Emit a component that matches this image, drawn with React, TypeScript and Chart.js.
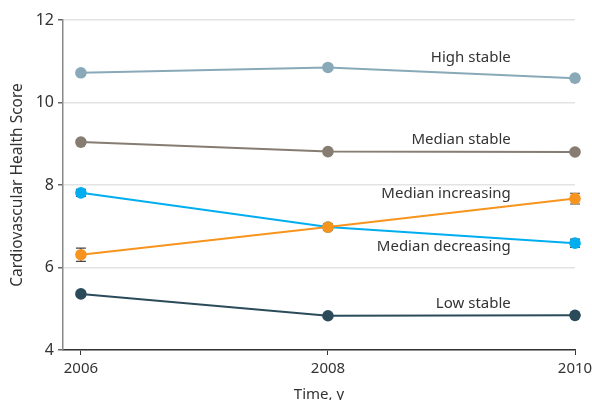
import React, { useEffect, useRef } from "react";
import { Chart, registerables } from "chart.js";

Chart.register(...registerables);

const years = [2006, 2008, 2010];
const seriesNames = ["High stable", "Median stable", "Median increasing", "Median decreasing", "Low stable"];
const highStable = [10.72, 10.85, 10.59];
const medianStable = [9.04, 8.81, 8.80];
const medianIncreasing = [6.31, 6.98, 7.67];
const medianDecreasing = [7.81, 6.98, 6.59];
const lowStable = [5.36, 4.83, 4.84];
const highStableErr = [0.05, 0.05, 0.05];
const medianStableErr = [0.05, 0.05, 0.05];
const medianIncreasingErr = [0.16, 0.07, 0.13];
const medianDecreasingErr = [0.085, 0.07, 0.1];
const lowStableErr = [0.06, 0.05, 0.05];
const labelX = [2009.48, 2009.48, 2009.48, 2009.48, 2009.48];
const labelY = [11.08, 9.09, 7.78, 6.5, 5.12];
const colors = ["#89a9b8", "#867c71", "#f7941d", "#00aeef", "#2b4b5b"];
const yTicks = [4, 6, 8, 10, 12];
const xTicks = [2006, 2008, 2010];

const FONT = "'Noto Sans', sans-serif";

export default function App() {
  const ref = useRef<HTMLCanvasElement | null>(null);
  useEffect(() => {
    if (!ref.current) return;
    const values = [highStable, medianStable, medianIncreasing, medianDecreasing, lowStable];
    const errs = [highStableErr, medianStableErr, medianIncreasingErr, medianDecreasingErr, lowStableErr];
    const datasets = seriesNames.map((name, i) => ({
      label: name,
      data: years.map((x, j) => ({ x, y: values[i][j] })),
      borderColor: colors[i],
      backgroundColor: colors[i],
      borderWidth: 2,
      pointRadius: 5.8,
      pointBorderWidth: 0,
      tension: 0,
      clip: false,
      errs: errs[i],
    }));

    const errPlugin = {
      id: "errbars",
      beforeDatasetsDraw(chart: any) {
        const ctx = chart.ctx;
        const xs = chart.scales.x;
        const ys = chart.scales.y;
        ctx.save();
        ctx.strokeStyle = "#444";
        ctx.lineWidth = 1.2;
        chart.data.datasets.forEach((ds: any) => {
          ds.data.forEach((p: any, j: number) => {
            const e = ds.errs[j];
            const px = xs.getPixelForValue(p.x);
            const y1 = ys.getPixelForValue(p.y + e);
            const y2 = ys.getPixelForValue(p.y - e);
            ctx.beginPath();
            ctx.moveTo(px, y1);
            ctx.lineTo(px, y2);
            ctx.moveTo(px - 5, y1);
            ctx.lineTo(px + 5, y1);
            ctx.moveTo(px - 5, y2);
            ctx.lineTo(px + 5, y2);
            ctx.stroke();
          });
        });
        ctx.restore();
      },
      afterDatasetsDraw(chart: any) {
        const ctx = chart.ctx;
        const xs = chart.scales.x;
        const ys = chart.scales.y;
        ctx.save();
        ctx.fillStyle = "#333";
        ctx.font = "15px " + FONT;
        ctx.textAlign = "right";
        ctx.textBaseline = "middle";
        seriesNames.forEach((name, i) => {
          ctx.fillText(name, xs.getPixelForValue(labelX[i]), ys.getPixelForValue(labelY[i]));
        });
        ctx.restore();
      },
    };

    const chart = new Chart(ref.current, {
      type: "line",
      data: { datasets: datasets as any },
      plugins: [errPlugin],
      options: {
        animation: false,
        responsive: false,
        layout: { padding: { top: 20, right: 17, left: 0, bottom: 0 } },
        plugins: { legend: { display: false }, tooltip: { enabled: false } },
        scales: {
          x: {
            type: "linear",
            min: 2005.855,
            max: 2010,
            afterBuildTicks: (s: any) => {
              s.ticks = xTicks.map((v) => ({ value: v }));
            },
            afterFit: (s: any) => {
              s.height = 50;
              s.paddingRight = 0;
              s.paddingLeft = 0;
            },
            ticks: {
              color: "#333",
              font: { family: FONT, size: 15 },
              padding: 5,
              maxRotation: 0,
              callback: (v: any) => String(v),
            },
            grid: { display: true, drawOnChartArea: false, tickLength: 5, color: "#333", tickColor: "#333" },
            border: { color: "#333", width: 1.5 },
            title: {
              display: true,
              text: "Time, y",
              color: "#333",
              font: { family: FONT, size: 15 },
              padding: { top: 4, bottom: -4 },
            },
          },
          y: {
            type: "linear",
            min: 4,
            max: 12,
            afterBuildTicks: (s: any) => {
              s.ticks = yTicks.map((v) => ({ value: v }));
            },
            afterFit: (s: any) => {
              s.width = 63;
            },
            ticks: {
              color: "#333",
              font: { family: FONT, size: 16 },
              padding: 4,
            },
            grid: { color: "#e3e3e3", tickColor: "#666", tickLength: 5, lineWidth: 1.5 },
            border: { color: "#888", width: 1.5 },
            title: {
              display: true,
              text: "Cardiovascular Health Score",
              color: "#333",
              font: { family: FONT, size: 15.5 },
              padding: { top: 8, bottom: 4 },
            },
          },
        },
      },
    });
    return () => chart.destroy();
  }, []);
  return (
    <div style={{ position: "fixed", left: 0, top: 0, width: 592, height: 400, background: "#fff" }}>
      <canvas ref={ref} width={592} height={400} style={{ width: 592, height: 400 }} />
    </div>
  );
}
